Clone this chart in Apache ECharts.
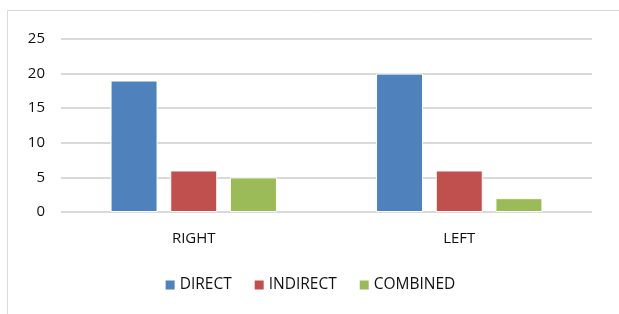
<!DOCTYPE html>
<html>
<head>
<meta charset="utf-8">
<script src="https://cdn.jsdelivr.net/npm/echarts@6/dist/echarts.min.js"></script>
<style>
  html, body { margin: 0; padding: 0; background: #fff; }
  #chart { width: 619px; height: 314px; }
</style>
</head>
<body>
<div id="chart"></div>
<script>
// data
const categories = ["RIGHT", "LEFT"];
const direct = [19, 20];
const indirect = [6, 6];
const combined = [5, 2];

const font = "Open Sans";

let myChart = echarts.init(document.getElementById("chart"));
myChart.setOption({
  animation: false,
  textStyle: { fontFamily: font },
  graphic: [
    {
      type: "polyline",
      shape: { points: [[7.5, 320], [7.5, 10.5], [625, 10.5]] },
      style: { stroke: "#d9d9d9", lineWidth: 1, fill: null },
    },
  ],
  grid: { left: 61, right: 27, top: 39, bottom: 102 },
  legend: {
    top: 272,
    left: "center",
    itemWidth: 11,
    itemHeight: 11,
    itemGap: 21,
    icon: "rect",
    textStyle: { fontSize: 15.5, color: "#111", fontFamily: font, padding: [0, 0, 0, -1] },
    data: ["DIRECT", "INDIRECT", "COMBINED"],
  },
  xAxis: {
    type: "category",
    data: categories,
    axisLine: { show: false },
    axisTick: { show: false },
    axisLabel: { fontSize: 15, color: "#111", margin: 19 },
  },
  yAxis: {
    type: "value",
    min: 0,
    max: 25,
    interval: 5,
    axisLine: { show: false },
    axisTick: { show: false },
    axisLabel: { fontSize: 15, color: "#111", margin: 16 },
    splitLine: { lineStyle: { color: "#d9d9d9", width: 2 } },
  },
  series: [
    {
      name: "DIRECT",
      type: "bar",
      data: direct,
      barWidth: 47,
      barGap: "27%",
      itemStyle: { color: "#4f81bd", borderColor: "#fff", borderWidth: 1 },
    },
    {
      name: "INDIRECT",
      type: "bar",
      data: indirect,
      barWidth: 47,
      itemStyle: { color: "#c0504d", borderColor: "#fff", borderWidth: 1 },
    },
    {
      name: "COMBINED",
      type: "bar",
      data: combined,
      barWidth: 47,
      itemStyle: { color: "#9bbb59", borderColor: "#fff", borderWidth: 1 },
    },
  ],
});
</script>
</body>
</html>
